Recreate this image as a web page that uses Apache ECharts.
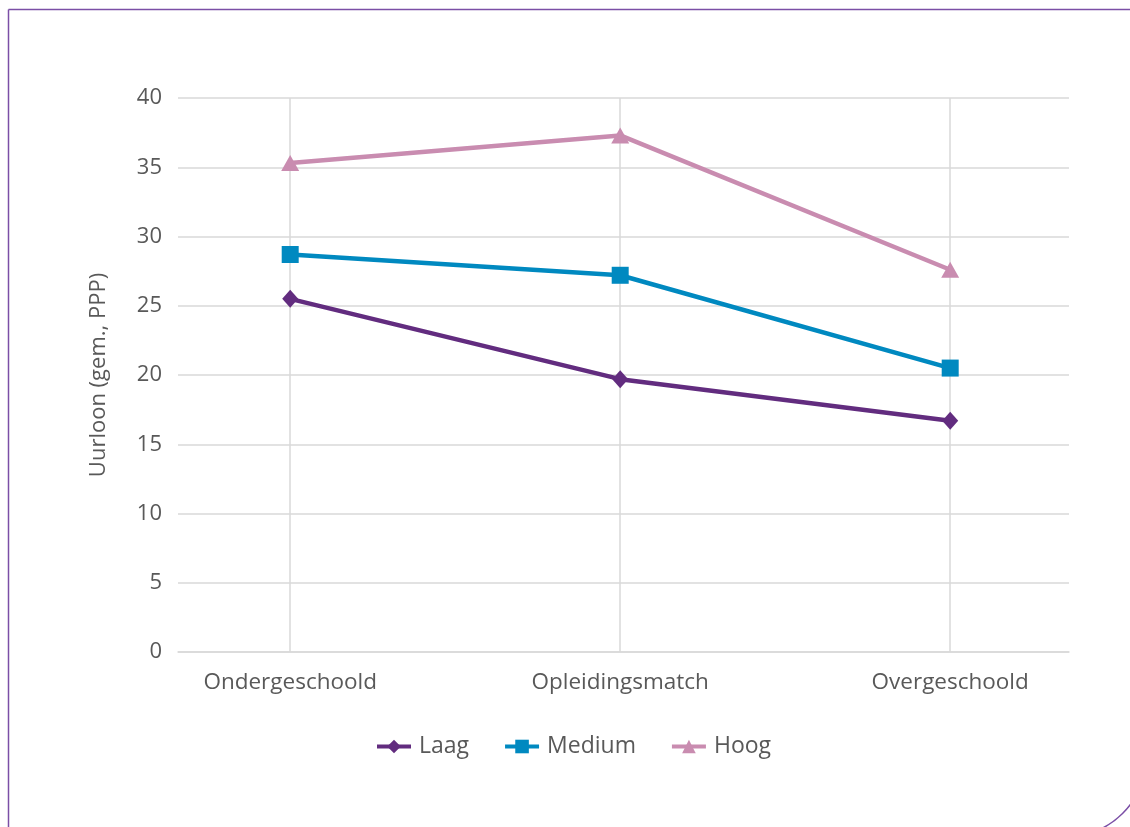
<!DOCTYPE html>
<html>
<head>
<meta charset="utf-8">
<script src="https://cdn.jsdelivr.net/npm/echarts@6/dist/echarts.min.js"></script>
<style>
html,body{margin:0;padding:0;background:#fff;}
#c{width:1130px;height:827px;}
</style>
</head>
<body>
<div id="c"></div>
<script>
var categories = ['Ondergeschoold', 'Opleidingsmatch', 'Overgeschoold'];
var laag = [25.5, 19.7, 16.7];
var medium = [28.7, 27.2, 20.5];
var hoog = [35.3, 37.3, 27.6];
var yTicks = [0, 5, 10, 15, 20, 25, 30, 35, 40];

function pts(arr){ return arr.map(function(v,i){ return [i, v]; }); }

var font = '"Open Sans", "Noto Sans", sans-serif';
var textColor = '#595959';
var chart = echarts.init(document.getElementById('c'), null, {renderer:'canvas'});
chart.setOption({
  backgroundColor: '#fff',
  animation: false,
  graphic: [{
    type: 'rect',
    shape: {x: 8.5, y: 9.5, width: 1136, height: 826, r: [0, 0, 75, 0]},
    style: {fill: 'none', stroke: '#7b4fa6', lineWidth: 1.5},
    z: -10
  }],
  grid: {left: 178, right: 61, top: 98, bottom: 175},
  xAxis: {
    type: 'value',
    min: -0.34, max: 2.36,
    axisLine: {show: true, lineStyle: {color: '#d9d9d9', width: 1.5}},
    axisTick: {show: false},
    splitLine: {show: false},
    axisLabel: {
      customValues: [0, 1, 2],
      formatter: function(v){ return categories[Math.round(v)] || ''; },
      color: textColor, fontSize: 22.5, fontFamily: font, margin: 19
    }
  },
  yAxis: {
    type: 'value',
    min: 0, max: 40, interval: 5,
    name: 'Uurloon (gem., PPP)',
    nameLocation: 'middle',
    nameGap: 68,
    nameTextStyle: {color: textColor, fontSize: 22, fontFamily: font},
    axisLine: {show: false},
    axisTick: {show: false},
    axisLabel: {
      color: textColor, fontSize: 22, fontFamily: font, margin: 16,
      formatter: function(v){ return yTicks.indexOf(v) >= 0 ? String(v) : ''; }
    },
    splitLine: {lineStyle: {color: '#d9d9d9', width: 1.5}}
  },
  legend: {
    bottom: 64, left: 370,
    itemWidth: 34, itemHeight: 17, itemGap: 34,
    lineStyle: {width: 4},
    textStyle: {color: textColor, fontSize: 23, fontFamily: font, padding: [0, 0, 0, 3]},
    data: ['Laag', 'Medium', 'Hoog']
  },
  series: [
    {
      type: 'line', name: '__grid', data: [], z: 1, silent: true,
      markLine: {
        silent: true, symbol: 'none', label: {show: false}, z: 1,
        lineStyle: {color: '#d9d9d9', width: 1.5, type: 'solid'},
        data: [{xAxis: 0}, {xAxis: 1}, {xAxis: 2}]
      }
    },
    {
      name: 'Laag', type: 'line', data: pts(laag), z: 10,
      symbol: 'diamond', symbolSize: [16, 18],
      lineStyle: {color: '#622c7f', width: 4.5},
      itemStyle: {color: '#622c7f', borderWidth: 0}
    },
    {
      name: 'Medium', type: 'line', data: pts(medium), z: 10,
      symbol: 'rect', symbolSize: 17,
      lineStyle: {color: '#0089c0', width: 4.5},
      itemStyle: {color: '#0089c0', borderWidth: 0}
    },
    {
      name: 'Hoog', type: 'line', data: pts(hoog), z: 10,
      symbol: 'triangle', symbolSize: [18, 16],
      lineStyle: {color: '#c98cb0', width: 4.5},
      itemStyle: {color: '#c98cb0', borderWidth: 0}
    }
  ]
});
</script>
</body>
</html>
